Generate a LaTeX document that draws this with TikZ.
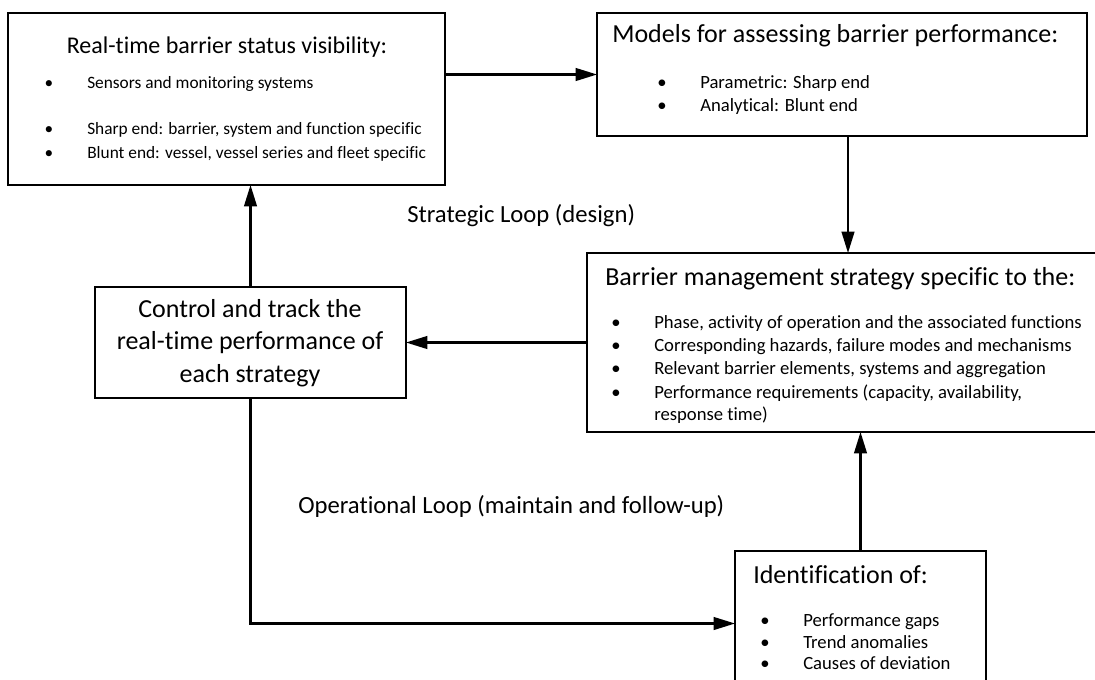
\documentclass[tikz,border=0pt]{standalone}
\usepackage{fontspec}
\setmainfont{Carlito}[Ligatures=NoCommon]
\usetikzlibrary{arrows.meta}
\newcommand{\itemSize}{14}
\newcommand{\listItem}[4]{%%
  %% A bullet and its text, on one baseline.
  \node[dotStyle] (#1dot) at (#2-38,#3) {\textbullet};
  \node[itemStyle] (#1) at (#2,#3) {#4};
}
\newcommand{\boxAt}[5]{%%
  %% An empty box from its upper left corner, width and height.
  \node[boxStyle,minimum width=#4*0.75pt,minimum height=#5*0.75pt] (#1) at (#2,#3) {};
}

\begin{document}
\begin{tikzpicture}[%%
  x=0.75pt,y=-0.75pt,%%
  boxStyle/.style={draw,line width=1.7pt,anchor=north west,inner sep=0pt,outer sep=0pt},%%
  titleStyle/.style={anchor=base west,inner sep=0pt,font=\fontsize{19.5}{23}\selectfont},%%
  itemStyle/.style={anchor=base west,inner sep=0pt,font=\fontsize{\itemSize}{17}\selectfont},%%
  dotStyle/.style={anchor=base,inner sep=0pt,font=\fontsize{\itemSize}{17}\selectfont},%%
  loopStyle/.style={anchor=base west,inner sep=0pt,font=\fontsize{18.5}{22}\selectfont},%%
  arrowStyle/.style={line width=1.6pt,-{Triangle[length=16pt,width=9.5pt]}}
]
\useasboundingbox (0,0) rectangle (1095,679);
%%
%% The five boxes.
\boxAt{status}{8}{13}{437}{172}
\boxAt{models}{597}{13}{490}{123}
\boxAt{strategy}{587}{253}{520}{179}
\boxAt{control}{95}{287}{311}{111}
\boxAt{ident}{735}{551}{251}{145}
%%
%% Real-time barrier status visibility (set a little smaller).
\node[titleStyle,anchor=base,font=\fontsize{18}{22}\selectfont] (statusTitle) at (227,53) {Real-time barrier status visibility:};
{\renewcommand{\itemSize}{13}
\listItem{statusA}{87}{88}{Sensors and monitoring systems}
\listItem{statusB}{87}{134}{Sharp end: barrier, system and function specific}
\listItem{statusC}{87}{158}{Blunt end: vessel, vessel series and fleet specific}
}
%%
%% Models for assessing barrier performance.
\node[titleStyle] (modelsTitle) at (612,42) {Models for assessing barrier performance:};
\listItem{modelsA}{700}{88}{Parametric: Sharp end}
\listItem{modelsB}{700}{111}{Analytical: Blunt end}
%%
%% Barrier management strategy.
\node[titleStyle] (strategyTitle) at (605,285) {Barrier management strategy specific to the:};
\listItem{strategyA}{654}{328}{Phase, activity of operation and the associated functions}
\listItem{strategyB}{654}{351}{Corresponding hazards, failure modes and mechanisms}
\listItem{strategyC}{654}{374}{Relevant barrier elements, systems and aggregation}
\listItem{strategyD}{654}{398}{Performance requirements (capacity, availability,}
\node[itemStyle] (strategyE) at (654,420) {response time)};
%%
%% Control and track.
\node[align=center,inner sep=0pt,font=\fontsize{19.5}{24.4}\selectfont] (controlText) at (250,343)
  {Control and track the\\real-time performance of\\each strategy};
%%
%% Identification of.
\node[titleStyle] (identTitle) at (753,583) {Identification of:};
\listItem{identA}{803}{626}{Performance gaps}
\listItem{identB}{803}{648}{Trend anomalies}
\listItem{identC}{803}{669}{Causes of deviation}
%%
%% The two loops.
\node[loopStyle] (strategic) at (407,222) {Strategic Loop (design)};
\node[loopStyle] (operational) at (298,513) {Operational Loop (maintain and follow-up)};
%%
%% Connectors.
\draw[arrowStyle] (status.east |- models.west) -- (models.west);
\draw[arrowStyle] ([xshift=4.5pt]models.south) -- ([xshift=4.5pt]models.south |- strategy.north);
\draw[arrowStyle] (strategy.west) -- (control.east);
\draw[arrowStyle] (control.north) -- (control.north |- status.south);
\draw[arrowStyle] (control.south) |- (ident.west);
\draw[arrowStyle] (ident.north) -- (ident.north |- strategy.south);
\end{tikzpicture}
\end{document}
